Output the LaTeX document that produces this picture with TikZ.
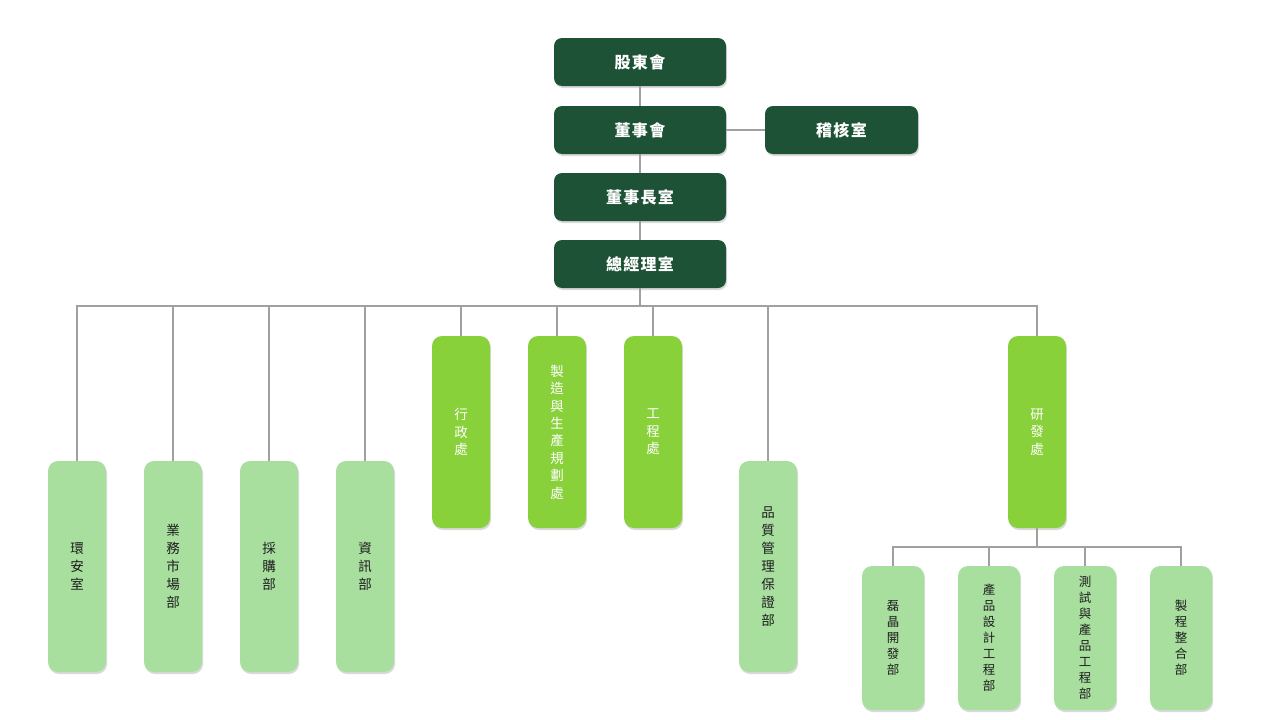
\documentclass[tikz,border=0pt]{standalone}
\usepackage{fontspec}
\setmainfont{Noto Sans CJK TC}
\usetikzlibrary{shadows}
\definecolor{dkg}{HTML}{1D5236}
\definecolor{brg}{HTML}{88D13B}
\definecolor{ltg}{HTML}{A8DF9F}
\definecolor{lnk}{HTML}{A0A0A0}
\definecolor{txt}{HTML}{1E1E1E}
\tikzset{
  base/.style={rounded corners=8pt, inner sep=0pt, drop shadow={opacity=0.3,shadow xshift=1pt,shadow yshift=-2pt}},
  topbox/.style={base, fill=dkg, text=white, minimum height=48pt, font=\fontsize{16}{18}\selectfont\bfseries\addfontfeature{LetterSpace=8}},
  brbox/.style={base, rounded corners=10pt, fill=brg, text=white, minimum width=58pt, minimum height=192pt, align=center, text width=20pt, font=\fontsize{13.5}{17.4}\selectfont},
  ltbox/.style={base, rounded corners=10pt, fill=ltg, text=txt, minimum width=58pt, minimum height=211pt, align=center, text width=20pt, font=\fontsize{13.5}{18}\selectfont},
  subbox/.style={base, rounded corners=10pt, fill=ltg, text=txt, minimum width=62pt, minimum height=144pt, align=center, text width=20pt, font=\fontsize{12.5}{16}\selectfont},
  link/.style={draw=lnk, line width=2pt}
}
\begin{document}
\begin{tikzpicture}[x=1pt,y=-1pt]
\useasboundingbox (0,0) rectangle (1280,720);
% top chain
\node[topbox, minimum width=172pt] (sh) at (640,62) {股東會};
\node[topbox, minimum width=172pt] (bd) at (640,130) {董事會};
\node[topbox, minimum width=153pt] (au) at (841.5,130) {稽核室};
\node[topbox, minimum width=172pt] (ch) at (640,197) {董事長室};
\node[topbox, minimum width=172pt] (gm) at (640,264) {總經理室};
% departments
\node[ltbox] (d1) at (77,566.5) {環\\安\\室};
\node[ltbox] (d2) at (173,566.5) {業\\務\\市\\場\\部};
\node[ltbox] (d3) at (269,566.5) {採\\購\\部};
\node[ltbox] (d4) at (365,566.5) {資\\訊\\部};
\node[brbox] (d5) at (461,432) {行\\政\\處};
\node[brbox] (d6) at (557,432) {製\\造\\與\\生\\產\\規\\劃\\處};
\node[brbox] (d7) at (653,432) {工\\程\\處};
\node[ltbox] (d8) at (768,566.5) {品\\質\\管\\理\\保\\證\\部};
\node[brbox] (rd) at (1037,432) {研\\發\\處};
% R&D sub
\node[subbox] (s1) at (893,638) {磊\\晶\\開\\發\\部};
\node[subbox] (s2) at (989,638) {產\\品\\設\\計\\工\\程\\部};
\node[subbox] (s3) at (1085,638) {測\\試\\與\\產\\品\\工\\程\\部};
\node[subbox] (s4) at (1181,638) {製\\程\\整\\合\\部};
% links
\draw[link] (sh.south) -- (bd.north);
\draw[link] (bd.east) -- (au.west);
\draw[link] (bd.south) -- (ch.north);
\draw[link] (ch.south) -- (gm.north);
\foreach \d in {d1,d2,d3,d4,d5,d6,d7,d8,rd}
  \draw[link] (gm.south) -- ++(0,18) -| (\d.north);
\foreach \s in {s1,s2,s3,s4}
  \draw[link] (rd.south) -- ++(0,19) -| (\s.north);
\end{tikzpicture}
\end{document}
